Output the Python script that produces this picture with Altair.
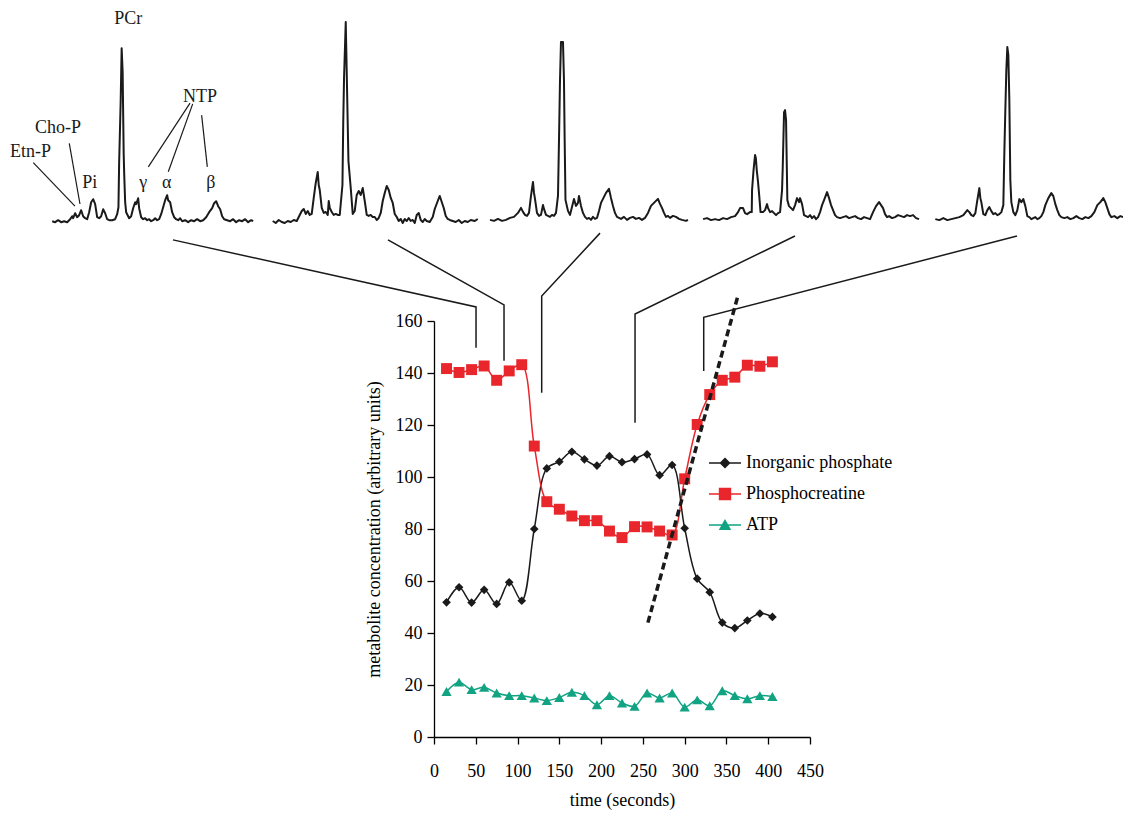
import altair as alt
import pandas as pd

# ---------------- main time-course data ----------------
TIME = [15, 30, 45, 60, 75, 90, 105, 120, 135, 150, 165, 180, 195, 210,
        225, 240, 255, 270, 285, 300, 315, 330, 345, 360, 375, 390, 405]
PI = [51.8, 57.6, 51.7, 56.6, 51.2, 59.5, 52.4, 80.0, 103.3, 105.9, 109.7, 106.8, 104.4, 108.0,
      105.7, 106.9, 108.7, 100.7, 104.6, 80.3, 60.9, 55.7, 44.0, 41.9, 44.8, 47.5, 46.2]
PCR = [141.7, 140.2, 141.3, 142.7, 137.2, 140.8, 143.2, 111.9, 90.5, 87.6, 85.0, 83.2, 83.2, 79.2,
       76.7, 80.9, 80.8, 79.2, 77.7, 99.3, 120.2, 131.7, 137.2, 138.4, 143.0, 142.6, 144.3]
ATP = [17.5, 21.1, 18.2, 19.1, 16.9, 15.9, 15.9, 15.0, 14.0, 15.2, 17.2, 15.9, 12.4, 15.9,
       13.1, 11.8, 16.9, 15.0, 16.9, 11.5, 14.3, 12.0, 17.8, 15.9, 14.7, 15.9, 15.6]

SERIES = ["Inorganic phosphate", "Phosphocreatine", "ATP"]
COLORS = ["#1a1a1a", "#e8262b", "#12a383"]
SHAPES = ["diamond", "square", "triangle-up"]
SIZES = [75, 120, 105]

# dotted recovery line (time, concentration)
DOT_T = [256, 364]
DOT_C = [44, 170]

X_TICKS = [0, 50, 100, 150, 200, 250, 300, 350, 400, 450]
Y_TICKS = [0, 20, 40, 60, 80, 100, 120, 140, 160]

# ---------------- spectra (offset along trace, height above baseline) ----------------
SPEC1 = [(0,1),(3,0),(6,2),(9,0),(12,1),(15,0),(18,3),(20,6),(21,4),(23,9),(25,5),(27,7),(29,12),
         (31,6),(33,4),(35,3),(37,10),(39,20),(41,23),(43,18),(45,5),(47,4),(49,6),(51,13),(53,9),
         (55,3),(57,2),(60,2),(63,3),(65,8),(66.3,15),(67,60),(68.5,120),(69.5,174),(70.5,150),
         (71.5,70),(72,50),(73,20),(74,10),(75,8),(77,4),(79,6),(81,14),(83,20),(84,18),(86,24),
         (87,14),(89,5),(91,3),(93,4),(95,2),(97,3),(99,1),(101,2),(103,4),(105,2),(107,3),(109,8),
         (111,15),(113,22),(115,27),(116,22),(118,20),(120,10),(122,5),(124,3),(126,2),(128,4),
         (130,1),(133,2),(136,0),(139,2),(142,1),(145,3),(148,1),(151,2),(154,5),(157,10),(160,14),
         (162,19),(164,21),(166,16),(168,13),(170,6),(172,3),(175,2),(178,1),(181,3),(184,0),
         (187,2),(190,1),(193,3),(196,0),(199,2),(201,1)]
SPEC2 = [(0,2),(3,0),(6,3),(9,1),(12,0),(15,2),(18,1),(21,3),(24,2),(27,8),(29,12),(31,14),(33,9),
         (35,12),(37,8),(39,9),(41,25),(43,40),(45,51),(46,38),(47,33),(49,15),(51,10),(53,11),
         (55,8),(56,22),(57,15),(59,11),(61,8),(63,9),(65,8),(67,8),(69.7,38),(70.5,100),(71.3,145),
         (73,201),(74,150),(75.7,62),(78,35),(80,9),(82,12),(84,28),(86,32),(88,28),(90,35),(92,22),
         (94,8),(96,7),(98,8),(100,6),(102,6),(104,3),(106,5),(108,10),(110,22),(112,30),(114,37),
         (116,33),(118,25),(120,20),(122,9),(124,6),(126,2),(128,4),(130,0),(132,4),(134,2),(136,5),
         (138,2),(140,3),(142,0),(144,8),(146,10),(148,3),(150,1),(152,4),(154,2),(157,1),(160,6),
         (162,14),(165,22),(167,27),(169,21),(171,15),(173,7),(175,4),(177,3),(180,2),(183,1),
         (186,3),(189,0),(192,2),(195,1),(198,3),(202,2),(205,4)]
SPEC3 = [(0,1),(4,0),(8,2),(12,0),(16,1),(20,3),(24,4),(28,8),(31,13),(33,9),(35,6),(37,5),(39,8),
         (41,25),(43,39),(44,28),(45,22),(47,8),(49,5),(51,6),(53,16),(54,12),(56,6),(58,5),(60,4),
         (62,6),(64,5),(66,8),(68,25),(69,80),(70,140),(71,179),(73,179),(74,140),(74.7,80),(75.5,21),
         (78,10),(80,6),(82,14),(84,22),(86,15),(88,18),(89,25),(91,15),(93,8),(95,4),(97,2),(99,3),
         (101,1),(103,4),(105,2),(107,3),(109,10),(111,18),(113,22),(116,28),(119,32),(121,23),
         (123,15),(125,8),(127,4),(129,3),(131,2),(134,4),(137,1),(140,3),(143,4),(146,2),(149,3),
         (152,1),(155,3),(158,8),(161,15),(164,18),(168,22),(170,17),(172,13),(174,8),(176,4),
         (178,5),(180,3),(183,5),(186,4),(189,2),(192,1),(196,0),(198,1)]
SPEC4 = [(0,1),(4,2),(8,0),(12,1),(16,0),(20,2),(24,1),(28,3),(32,4),(35,8),(37,12),(40,12),(42,7),
         (44,6),(47,8),(48.7,8),(49,30),(50.5,50),(52,65),(52.8,62),(53.7,50),(55,38),(56.3,23),
         (57.5,8),(60,8),(62,10),(64,16),(65,12),(67,8),(69,9),(71,7),(73,5),(75,7),(77,8),(79,30),
         (79.7,53),(81,108),(82,110),(83,100),(84.3,20),(86,14),(88,12),(90,10),(92,15),(94,22),
         (96,18),(97,22),(99,16),(101,5),(103,4),(105,3),(107,5),(109,2),(111,4),(113,1),(115,3),
         (117,8),(119,15),(121,20),(124,28),(126,22),(128,15),(130,10),(132,5),(134,3),(137,2),
         (140,3),(143,4),(146,2),(149,3),(152,4),(155,2),(158,1),(161,3),(164,2),(167,1),(170,8),
         (173,14),(176,18),(178,15),(180,12),(182,6),(184,3),(186,4),(189,2),(192,3),(195,5),
         (198,4),(201,3),(204,5),(207,4),(210,5),(213,2),(216,1)]
SPEC5 = [(0,1),(4,0),(8,2),(12,0),(16,1),(20,2),(24,3),(28,5),(32,10),(34,8),(36,5),(38,4),(40,7),
         (42,20),(44,32),(45,22),(46,18),(48,6),(50,5),(52,10),(54,13),(56,9),(58,6),(60,7),(62,5),
         (64,6),(66,8),(68,15),(69,67),(70,110),(71,150),(72,173),(73,165),(74,120),(75,40),(76,18),
         (78,8),(80,5),(82,10),(84,21),(86,18),(88,21),(90,14),(92,4),(94,3),(96,1),(98,2),(100,3),
         (102,1),(104,2),(106,4),(108,8),(110,15),(113,22),(116,27),(118,24),(120,16),(122,10),
         (124,5),(126,3),(129,2),(132,3),(135,1),(138,2),(141,4),(144,2),(147,1),(150,3),(153,2),
         (156,4),(159,8),(162,15),(165,18),(168,22),(170,18),(172,12),(174,6),(176,3),(179,4),
         (182,2),(185,4),(188,3),(191,4),(195,3)]
SPECTRA = [SPEC1, SPEC2, SPEC3, SPEC4, SPEC5]
# placement of each spectrum (left end time, baseline concentration) and drawing scale
SPEC_T0 = [-457, -193, 67, 322, 600]
SPEC_C0 = [198.0, 197.7, 198.5, 198.8, 198.8]
SPEC_SX = 450 / 376
SPEC_SY = 160 / 416

# peak labels on first spectrum
LABEL_TEXT = ["PCr", "NTP", "Cho-P", "Etn-P", "Pi", "\u03b3", "\u03b1", "\u03b2"]
LABEL_T = [-366, -280, -450, -483, -412, -348, -320, -267]
LABEL_C = [276.0, 246.3, 234.1, 225.1, 213.0, 213.2, 213.2, 213.2]

# leader lines from labels to peaks: (t1, c1, t2, c2)
LEADERS = [(-479.6, 220.9, -429.7, 204.2),
           (-436.5, 228.3, -423.7, 205.0),
           (-292.0, 243.8, -341.9, 219.3),
           (-288.8, 243.5, -318.0, 217.4),
           (-278.1, 239.2, -271.3, 219.3)]

# connectors from each spectrum to its acquisition time on the graph
CONN_SPEC_T = [-312.4, -55.1, 198.7, 432.0, 697.7]
CONN_SPEC_C = [191.2, 191.2, 193.8, 192.7, 192.7]
CONN_TIME = [50.3, 83.8, 128.9, 240.6, 322.8]
CONN_TOP = [165.4, 166.2, 169.6, 162.7, 161.4]
CONN_BOTTOM = [149.7, 144.7, 132.4, 120.9, 140.8]

FONT = "Liberation Serif"

# ---------------- tables ----------------
main_df = pd.DataFrame({
    "t": TIME * 3,
    "c": PI + PCR + ATP,
    "series": [SERIES[0]] * len(TIME) + [SERIES[1]] * len(TIME) + [SERIES[2]] * len(TIME),
})
dot_df = pd.DataFrame({"t": DOT_T, "c": DOT_C})

spec_rows = []
for k, pts in enumerate(SPECTRA):
    for i, (dx, h) in enumerate(pts):
        spec_rows.append({"id": k, "i": i, "t": SPEC_T0[k] + dx * SPEC_SX,
                          "c": SPEC_C0[k] + h * SPEC_SY})
spec_df = pd.DataFrame(spec_rows)

lab_df = pd.DataFrame({"t": LABEL_T, "c": LABEL_C, "txt": LABEL_TEXT})

lead_rows = []
for k, (t1, c1, t2, c2) in enumerate(LEADERS):
    lead_rows += [{"id": k, "i": 0, "t": t1, "c": c1}, {"id": k, "i": 1, "t": t2, "c": c2}]
lead_df = pd.DataFrame(lead_rows)

conn_rows = []
for k in range(5):
    conn_rows += [{"id": k, "i": 0, "t": CONN_SPEC_T[k], "c": CONN_SPEC_C[k]},
                  {"id": k, "i": 1, "t": CONN_TIME[k], "c": CONN_TOP[k]},
                  {"id": k, "i": 2, "t": CONN_TIME[k], "c": CONN_BOTTOM[k]}]
conn_df = pd.DataFrame(conn_rows)

# ---------------- scales / axes ----------------
xs = alt.Scale(domain=[0, 450], nice=False, zero=False)
ys = alt.Scale(domain=[0, 160], nice=False, zero=False)
x_axis = alt.Axis(values=X_TICKS, grid=False, tickSize=7, tickWidth=1.3, domainWidth=1.3,
                  domainColor="black", tickColor="black", labelColor="black",
                  labelFont=FONT, labelFontSize=18, labelPadding=18, labelFlush=False,
                  labelOverlap=False, title="time (seconds)", titleFont=FONT, titleFontSize=18,
                  titleFontWeight="normal", titleColor="black", titlePadding=11)
y_axis = alt.Axis(values=Y_TICKS, grid=False, tickSize=7, tickWidth=1.3, domainWidth=1.3,
                  domainColor="black", tickColor="black", labelColor="black",
                  labelFont=FONT, labelFontSize=18, labelPadding=5, labelFlush=False,
                  labelOverlap=False, title="metabolite concentration (arbitrary units)",
                  titleFont=FONT, titleFontSize=18, titleFontWeight="normal", titleColor="black",
                  titlePadding=12)
X = alt.X("t:Q", scale=xs, axis=x_axis)
Y = alt.Y("c:Q", scale=ys, axis=y_axis)

layers = []
# spectra
layers.append(alt.Chart(spec_df).mark_line(color="#1a1a1a", strokeWidth=2.0,
                                           strokeJoin="round").encode(
    x=X, y=Y, detail="id:N", order="i:Q"))
# leaders & connectors
layers.append(alt.Chart(lead_df).mark_line(color="#1a1a1a", strokeWidth=1.2).encode(
    x=X, y=Y, detail="id:N", order="i:Q"))
layers.append(alt.Chart(conn_df).mark_line(color="#1a1a1a", strokeWidth=1.5).encode(
    x=X, y=Y, detail="id:N", order="i:Q"))
# labels
layers.append(alt.Chart(lab_df).mark_text(font=FONT, fontSize=18, color="#1a1a1a",
                                          align="center", baseline="middle").encode(
    x=X, y=Y, text="txt:N"))

# series
for name, col, shp, sz in zip(SERIES, COLORS, SHAPES, SIZES):
    base = alt.Chart(main_df).transform_filter(alt.datum.series == name)
    layers.append(base.mark_line(color=col, strokeWidth=1.5, interpolate="catmull-rom").encode(
        x=X, y=Y))
    layers.append(base.mark_point(shape=shp, filled=True, opacity=1, color=col, size=sz).encode(
        x=X, y=Y))

# dotted line
layers.append(alt.Chart(dot_df).mark_line(color="#1a1a1a", strokeWidth=3.5,
                                          strokeDash=[7, 4]).encode(x=X, y=Y))

# legend carrier (invisible points, custom line+marker symbols)
LEG_PATHS = ["M-1,0H1M0,-0.28L0.28,0L0,0.28L-0.28,0Z",
             "M-1,0H1M-0.34,-0.34H0.34V0.34H-0.34Z",
             "M-1,0H1M-0.31,0.26L0.31,0.26L0,-0.28Z"]
leg = alt.Legend(title=None, orient="none", legendX=274, legendY=125, labelFont=FONT,
                 labelFontSize=18, labelColor="black", symbolSize=1024, symbolStrokeWidth=1.5,
                 symbolOpacity=1, rowPadding=5, padding=0, labelOffset=4, labelLimit=0)
layers.append(alt.Chart(main_df).mark_point(filled=True, opacity=0).encode(
    x=X, y=Y,
    color=alt.Color("series:N", scale=alt.Scale(domain=SERIES, range=COLORS), legend=leg),
    stroke=alt.Stroke("series:N", scale=alt.Scale(domain=SERIES, range=COLORS), legend=leg),
    shape=alt.Shape("series:N", scale=alt.Scale(domain=SERIES, range=LEG_PATHS), legend=leg),
))

chart = alt.layer(*layers).properties(
    width=376, height=416,
    autosize=alt.AutoSizeParams(type="none"),
    padding={"left": 426, "top": 313, "right": 313, "bottom": 76},
).configure(background="white").configure_view(stroke=None)

chart.save("out.html", embed_options={"renderer": "svg", "actions": False})
